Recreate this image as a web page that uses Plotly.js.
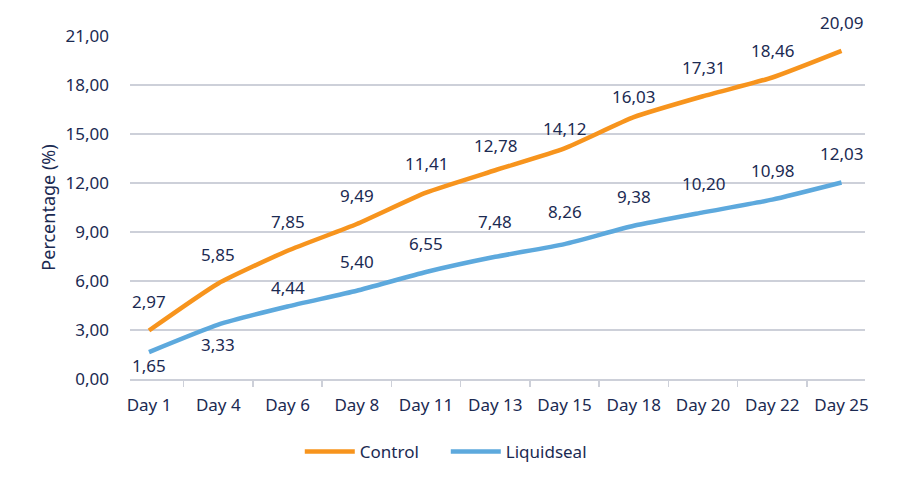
<!DOCTYPE html>
<html>
<head>
<meta charset="utf-8">
<script src="https://cdn.plot.ly/plotly-3.0.1.min.js"></script>
<style>html,body{margin:0;padding:0;background:#fff}#chart{width:900px;height:482px}</style>
</head>
<body>
<div id="chart"></div>
<script>
const days = ["Day 1","Day 4","Day 6","Day 8","Day 11","Day 13","Day 15","Day 18","Day 20","Day 22","Day 25"];
const controlValues = [2.97,5.85,7.85,9.49,11.41,12.78,14.12,16.03,17.31,18.46,20.09];
const liquidsealValues = [1.65,3.33,4.44,5.40,6.55,7.48,8.26,9.38,10.20,10.98,12.03];
const yTicks = [0,3,6,9,12,15,18,21];
const seriesNames = ["Control","Liquidseal"];

// label placement (pixel offsets of data labels from their points)
const controlLabelShift = [29,29,29,29,29,25,20,21,29,27,28];
const liquidsealLabelShift = [-13,-20,19,29,29,35,33,29,29,29,29];

const textColor = "#1b2a52";
const fontFam = "'Noto Sans', 'Open Sans', sans-serif";
const fs = 17;
const fmt = v => v.toFixed(2).replace(".", ",");

const traces = [
  {x: days, y: controlValues, name: seriesNames[0], type: "scatter", mode: "lines",
   line: {color: "#F7941D", width: 4.5, shape: "spline", smoothing: 0.5}, hoverinfo: "skip"},
  {x: days, y: liquidsealValues, name: seriesNames[1], type: "scatter", mode: "lines",
   line: {color: "#5DA9DD", width: 4.5, shape: "spline", smoothing: 0.5}, hoverinfo: "skip"}
];

const annotations = [];
days.forEach((d, i) => {
  annotations.push({x: d, y: controlValues[i], text: fmt(controlValues[i]), showarrow: false,
    yshift: controlLabelShift[i], font: {size: fs, color: textColor, family: fontFam}});
  annotations.push({x: d, y: liquidsealValues[i], text: fmt(liquidsealValues[i]), showarrow: false,
    yshift: liquidsealLabelShift[i], font: {size: fs, color: textColor, family: fontFam}});
});

const layout = {
  width: 900, height: 482,
  autosize: false,
  margin: {l: 130, r: 35, t: 36, b: 103, autoexpand: false},
  paper_bgcolor: "#fff", plot_bgcolor: "#fff",
  separators: ",.",
  font: {family: fontFam, size: fs, color: textColor},
  showlegend: true,
  legend: {orientation: "h", x: 0.231, xanchor: "left", y: -0.213, yanchor: "middle",
           font: {size: fs, color: textColor}, itemwidth: 50, entrywidth: 81, entrywidthmode: "pixels",
           bgcolor: "rgba(0,0,0,0)"},
  xaxis: {type: "category", showgrid: false, showline: true, linecolor: "#cdd0d9", linewidth: 1.5,
          ticks: "outside", tickson: "boundaries", ticklen: 6, tickcolor: "#cdd0d9", tickwidth: 1.5,
          tickangle: 0, automargin: false, ticklabelstandoff: 10,
          tickfont: {size: fs, color: textColor}, fixedrange: true},
  yaxis: {range: [0, 21], tickvals: yTicks, tickformat: ".2f", showgrid: true, gridcolor: "#cdd0d9",
          gridwidth: 1.5, zeroline: false, showline: false, ticks: "", tickfont: {size: fs, color: textColor},
          automargin: false, ticklabelstandoff: 20,
          title: {text: "Percentage (%)", font: {size: 18, color: textColor}, standoff: 5}},
  annotations: annotations
};

Plotly.newPlot("chart", traces, layout, {displayModeBar: false, staticPlot: true});
</script>
</body>
</html>
